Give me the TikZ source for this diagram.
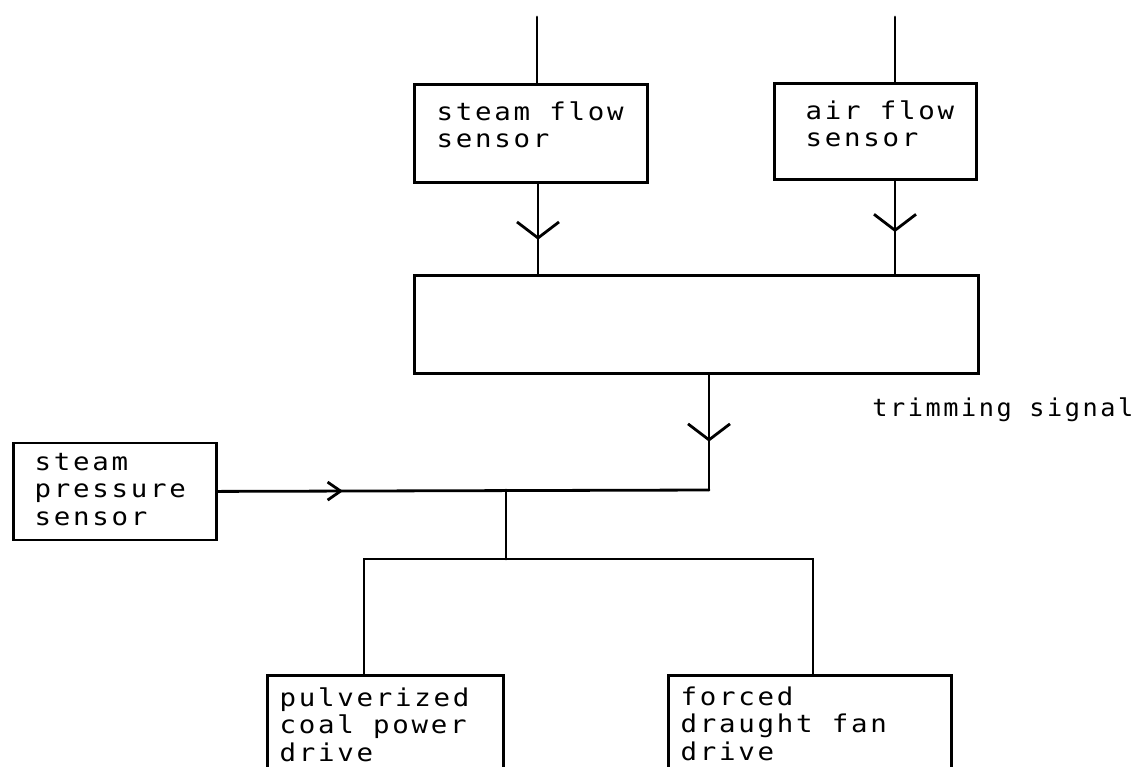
\documentclass[tikz,border=0pt]{standalone}
\usepackage{fontspec}
\newfontfamily\plotfont[LetterSpace=10]{DejaVu Sans Mono}
\usetikzlibrary{arrows.meta,decorations.markings}
\begin{document}
\begin{tikzpicture}[x=1pt,y=-1pt,
  line width=2.8pt, line cap=round, line join=miter,
  box/.style={draw, rectangle, inner sep=0pt, anchor=north west},
  txt/.style={anchor=north west, inner sep=0pt, align=left, xscale=1.12, transform shape,
    font=\plotfont\fontsize{24.5}{27.5}\selectfont},
  vbarb/.style={postaction={decorate}, decoration={markings,
    mark=at position #1 with {\arrow{Straight Barb[length=16pt,width=42pt,line width=2.8pt]}}}},
  hbarb/.style={postaction={decorate}, decoration={markings,
    mark=at position #1 with {\arrow{Straight Barb[length=13pt,width=18pt,line width=2.8pt]}}}}
]
\useasboundingbox (0,0) rectangle (1131,766);
% boxes
\node[box, minimum width=233pt, minimum height=98pt] (sf) at (413,83) {};
\node[box, minimum width=202pt, minimum height=96pt] (af) at (773,82) {};
\node[box, minimum width=564pt, minimum height=98pt] (big) at (413,274) {};
\node[box, minimum width=203pt, minimum height=97pt] (sp) at (12,441.5) {};
\node[box, minimum width=236pt, minimum height=130pt] (pc) at (266,674) {};
\node[box, minimum width=283pt, minimum height=130pt] (fd) at (667,674) {};
% texts
\node[txt] (sfT) at (435,100) {\rule{0pt}{19pt}steam flow\\sensor};
\node[txt] (afT) at (804,99) {\rule{0pt}{19pt}air flow\\sensor};
\node[txt] (spT) at (33,450) {\rule{0pt}{19pt}steam\\pressure\\sensor};
\node[txt] (pcT) at (278,686) {\rule{0pt}{19pt}pulverized\\coal power\\drive};
\node[txt] (fdT) at (679,685) {\rule{0pt}{19pt}forced\\draught fan\\drive};
\node[txt, xscale=0.92] (trT) at (871,396) {\rule{0pt}{19pt}trimming signal};
% coordinates
\coordinate (sfin) at (537,17);
\coordinate (afin) at (895,17);
\coordinate (sfx) at (538,0);
\coordinate (tx) at (709,0);
\coordinate (corner) at (709,490);
\coordinate (jn) at (506,490);
\coordinate (jb) at (506,559);
\coordinate (bl) at (364,559);
\coordinate (br) at (813,559);
% connectors
\draw (sfin) -- (sfin |- sf.north);
\draw (afin) -- (afin |- af.north);
\draw[vbarb=0.62] (sfx |- sf.south) -- (sfx |- big.north);
\draw[vbarb=0.55] (afin |- af.south) -- (afin |- big.north);
\draw[vbarb=0.58] (tx |- big.south) -- (corner);
\draw[hbarb=0.255] (sp.east) -- (corner);
\draw (jn) -- (jb);
\draw (bl |- pc.north) -- (bl) -- (br) -- (br |- fd.north);
\end{tikzpicture}
\end{document}
